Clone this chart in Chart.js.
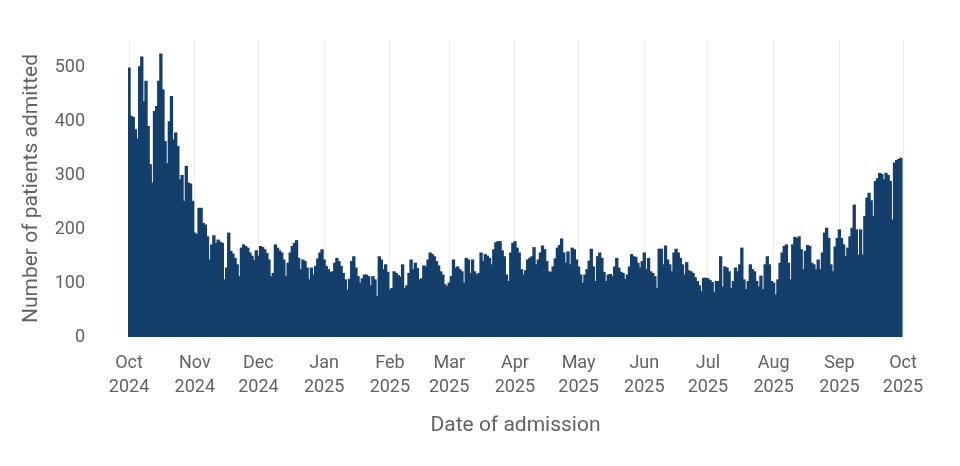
<!DOCTYPE html>
<html>
<head>
<meta charset="utf-8">
<script src="https://cdn.jsdelivr.net/npm/chart.js@4.4.1/dist/chart.umd.min.js"></script>
<style>
  html, body { margin: 0; padding: 0; background: #fff; }
  #wrap { width: 960px; height: 466px; }
</style>
</head>
<body>
<div id="wrap"><canvas id="chart"></canvas></div>
<script>
// daily admissions, 1 Oct 2024 .. 30 Sep 2025
const oct24 = [500,410,408,385,368,502,520,437,475,391,320,286,419,428,475,526,459,363,322,400,447,366,379,354,292,300,252,317,286,284,252];
const nov24 = [193,190,239,239,211,208,186,143,171,188,174,180,176,174,106,128,193,159,154,146,134,112,165,171,168,165,156,150,142,160];
const dec24 = [150,168,166,162,155,143,112,118,171,165,160,156,143,112,137,156,168,174,179,146,125,143,140,128,106,128,115,131,145,156,162];
const jan25 = [143,131,125,120,121,137,146,140,131,118,106,87,107,140,149,128,112,100,108,115,115,112,95,112,106,75,149,143,125,134,120];
const feb25 = [87,90,121,118,114,111,134,90,95,118,143,125,137,127,106,108,132,130,143,156,153,149,140,132,121,115,97,94];
const mar25 = [100,112,143,128,130,125,121,100,146,143,118,143,121,115,118,156,140,153,150,146,134,162,175,177,177,160,149,115,103,156,174];
const apr25 = [177,165,156,125,115,123,143,146,149,166,134,143,156,169,162,140,121,120,130,145,165,170,182,156,137,158,134,165,162,143];
const may25 = [130,115,100,115,125,141,163,130,103,149,156,146,120,103,115,116,112,130,146,128,120,118,107,115,130,153,149,148,137,128,140];
const jun25 = [156,125,146,121,118,112,90,163,163,134,169,143,134,121,156,163,156,146,134,115,138,123,121,118,110,103,95,84,109,109];
const jul25 = [108,105,101,82,103,103,149,93,130,128,121,90,103,128,121,134,165,106,88,103,134,125,121,103,93,113,88,134,149,134,103];
const aug25 = [100,78,106,137,156,168,171,137,106,171,185,183,186,162,125,159,170,168,137,134,125,143,125,156,193,202,183,134,121,167,183];
const sep25 = [199,183,171,149,165,186,202,245,199,152,199,152,224,258,267,253,224,289,294,304,302,292,304,300,289,217,323,328,330,332];

const months = [oct24, nov24, dec24, jan25, feb25, mar25, apr25, may25, jun25, jul25, aug25, sep25];
const monthLabels = [
  ['Oct','2024'], ['Nov','2024'], ['Dec','2024'], ['Jan','2025'], ['Feb','2025'], ['Mar','2025'],
  ['Apr','2025'], ['May','2025'], ['Jun','2025'], ['Jul','2025'], ['Aug','2025'], ['Sep','2025'], ['Oct','2025']
];
const yTicks = [0, 100, 200, 300, 400, 500];

// day offsets where each month begins, and the flat daily series
const monthStarts = [0];
const points = [];
months.forEach(m => {
  const start = monthStarts[monthStarts.length - 1];
  m.forEach((v, i) => points.push({ x: start + i, y: v }));
  monthStarts.push(start + m.length);
});

const textColor = '#5f6368';
const font = 'Roboto, "Noto Sans", sans-serif';

new Chart(document.getElementById('chart'), {
  type: 'bar',
  data: {
    datasets: [{
      label: 'Admissions',
      data: points,
      backgroundColor: '#143f6b',
      borderWidth: 0,
      inflateAmount: 0.6,
      barPercentage: 1,
      categoryPercentage: 1
    }]
  },
  options: {
    responsive: true,
    maintainAspectRatio: false,
    animation: false,
    layout: { padding: { left: 19, right: 57, top: 40, bottom: 28 } },
    plugins: { legend: { display: false }, tooltip: { enabled: false } },
    scales: {
      x: {
        type: 'linear',
        offset: false,
        min: -0.5,
        max: 365,
        afterBuildTicks: (scale) => {
          scale.ticks = monthStarts.map(v => ({ value: v }));
        },
        afterFit: (scale) => { scale.height = 101; },
        ticks: {
          autoSkip: false,
          maxRotation: 0,
          padding: 15,
          color: textColor,
          font: { family: font, size: 18, lineHeight: 1.3 },
          callback: (value) => monthLabels[monthStarts.indexOf(value)] || ''
        },
        grid: { color: '#ededed', drawTicks: false, offset: false },
        border: { display: false },
        title: {
          display: true,
          text: 'Date of admission',
          color: textColor,
          font: { family: font, size: 21 },
          padding: 0
        }
      },
      y: {
        min: 0,
        max: 552,
        afterBuildTicks: (scale) => {
          scale.ticks = yTicks.map(v => ({ value: v }));
        },
        afterFit: (scale) => {
          scale.width = 109;
          scale.paddingTop = 0;
          scale.paddingBottom = 0;
        },
        ticks: {
          padding: 43,
          color: textColor,
          font: { family: font, size: 18 }
        },
        grid: { display: false, drawTicks: false },
        border: { display: false },
        title: {
          display: true,
          text: 'Number of patients admitted',
          color: textColor,
          font: { family: font, size: 21 },
          padding: 0
        }
      }
    }
  }
});
</script>
</body>
</html>
